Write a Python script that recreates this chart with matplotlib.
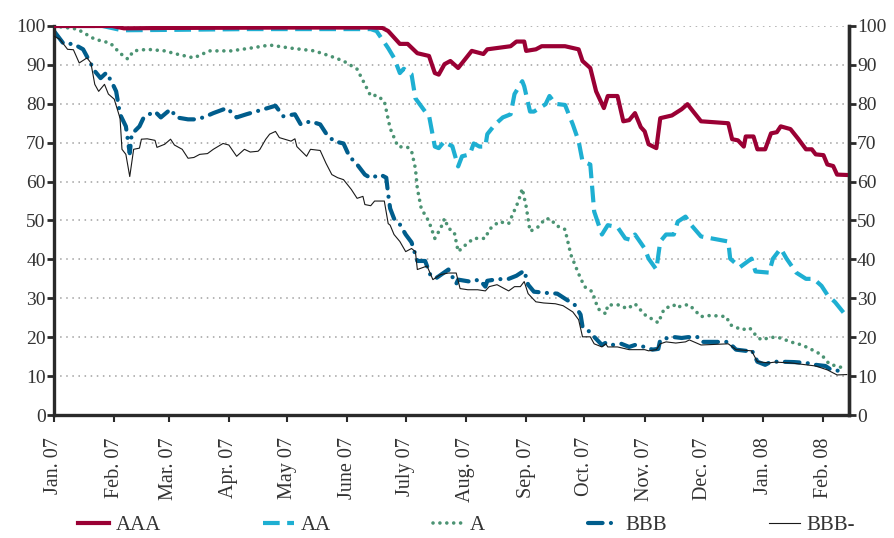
import matplotlib.pyplot as plt
import numpy as np

plt.rcParams['font.family'] = ['Liberation Serif', 'DejaVu Serif']

# days since 1 Jan 2007
aaa_day = [0, 30, 36, 60, 120, 163, 169, 172, 178, 182, 187, 193, 196, 198, 201, 204, 208,
           215, 221, 223, 235, 238, 242, 243, 248, 251, 263, 270, 272, 276, 279, 283, 285,
           290, 293, 296, 299, 302, 304, 306, 310, 312, 318, 323, 326, 329, 333, 347, 349,
           352, 355, 356, 360, 362, 366, 369, 372, 374, 379, 383, 387, 390, 392, 396, 398,
           401, 403, 408]
aaa_val = [100, 100, 99.4, 99.5, 99.6, 99.6, 99.5, 98.7, 95.4, 95.4, 93, 92.3, 87.9, 87.5,
           90.2, 91, 89.2, 93.6, 92.8, 94, 94.8, 96, 96, 93.6, 94, 94.8, 94.8, 94, 91, 89.2,
           83.2, 78.9, 82, 82, 75.5, 75.8, 77.6, 74, 72.9, 69.6, 68.6, 76.3, 77, 78.6, 79.9,
           78, 75.5, 75, 70.9, 70.6, 69, 71.6, 71.6, 68.3, 68.3, 72.4, 72.7, 74.2, 73.5, 71,
           68.3, 68.3, 67, 66.8, 64.4, 64, 61.8, 61.7]

aa_day = [0, 25, 35, 60, 100, 163, 166, 172, 175, 178, 180, 184, 186, 191, 193, 196, 198,
          201, 203, 205, 208, 210, 214, 216, 219, 222, 223, 227, 231, 235, 237, 241, 242,
          245, 247, 253, 255, 258, 263, 267, 270, 272, 276, 278, 282, 285, 290, 294, 297,
          299, 304, 306, 310, 312, 315, 319, 321, 325, 328, 333, 347, 348, 353, 359, 361,
          368, 370, 374, 377, 382, 387, 391, 395, 398, 402, 408]
aa_val = [100, 100, 98.9, 99, 99.2, 99.2, 98.7, 94.3, 91.8, 87.9, 89, 87.6, 81.4, 78, 77,
          69, 68.6, 70.4, 69.6, 69.1, 63.9, 66.5, 67, 69.8, 69, 69, 72.2, 74.7, 76.5, 77.3,
          82.5, 85.8, 84.5, 78, 78, 79.9, 82, 80, 79.7, 74.7, 70.4, 65.2, 64.4, 52.3, 46.4,
          48.8, 48.3, 45.4, 45, 46.4, 42.8, 40.2, 37.4, 44.6, 46.4, 46.4, 49.7, 51, 48.8,
          45.9, 44.6, 40.2, 38, 40.2, 36.9, 36.6, 40.2, 42.8, 40.2, 36.6, 35, 35, 33.2, 30.9,
          29, 25.3]

a_day = [0, 12, 21, 29, 34, 38, 41, 48, 57, 63, 72, 80, 91, 101, 111, 122, 134, 142, 149,
         156, 160, 163, 166, 170, 173, 177, 182, 184, 186, 187, 189, 193, 196, 199, 201, 203,
         206, 208, 212, 216, 222, 224, 229, 234, 236, 239, 241, 243, 245, 249, 253, 256, 258,
         263, 266, 270, 273, 277, 280, 284, 285, 291, 295, 299, 304, 310, 311, 314, 319, 320,
         325, 327, 333, 338, 346, 348, 354, 358, 361, 364, 369, 374, 379, 385, 390, 395, 399,
         404, 408]
a_val = [100, 99.2, 96.6, 95.6, 93, 91.5, 93.6, 94, 93.6, 92.8, 91.8, 93.6, 93.6, 94.3, 95.1,
         94.3, 93.6, 92.3, 91, 88.9, 85, 82, 82.2, 80.7, 73.7, 69, 68.8, 67.9, 63.4, 58.2,
         53.1, 49.7, 45.4, 48, 50.5, 48, 47, 42, 43.8, 45.4, 45.4, 47.7, 49.7, 49.2, 51.5,
         54.9, 58.2, 53.6, 47.2, 48.3, 50.5, 50.3, 48.8, 47.7, 41.2, 36.3, 33, 31.7, 27.3, 26,
         28.3, 28.3, 27.3, 28.6, 25.8, 24, 23.7, 27.3, 28.3, 27.6, 28.3, 28.3, 25.3, 25.6,
         25.3, 23.2, 21.9, 22.4, 20.6, 19.3, 20, 19.8, 18.8, 18, 16.8, 15.5, 13.1, 12.4, 11.9]

bbb_day = [0, 5, 10, 15, 21, 24, 27, 30, 32, 34, 37, 39, 40, 44, 46, 49, 52, 55, 60, 63, 69,
           72, 77, 82, 89, 94, 99, 110, 114, 118, 124, 127, 132, 137, 140, 144, 149, 152, 156,
           160, 163, 168, 171, 172, 173, 175, 178, 181, 184, 186, 187, 191, 194, 197, 203, 207,
           208, 214, 219, 222, 223, 228, 234, 238, 242, 244, 247, 253, 259, 263, 268, 271, 272,
           274, 278, 282, 284, 287, 292, 296, 299, 304, 308, 311, 312, 318, 323, 326, 331, 333,
           347, 351, 356, 359, 362, 366, 369, 374, 381, 387, 392, 397, 400, 405]
bbb_val = [98.7, 95.4, 95.4, 94, 88.4, 86.6, 88, 85.3, 83.2, 77.3, 74.2, 67.3, 72.2, 74.2,
           76.3, 77.3, 78, 76.5, 78.6, 76.5, 76, 76, 76.5, 77.6, 78.9, 76.5, 77.3, 78.9, 79.5,
           76.8, 77.3, 74.7, 75.5, 74.7, 72.4, 70.4, 69.8, 66.5, 64.4, 61.8, 60.9, 61.8, 61,
           56.7, 53.1, 50.5, 49, 46.4, 44.4, 41.2, 39.6, 39.6, 35.6, 35.3, 37.4, 33.7, 34.8,
           34.3, 34.8, 33, 34.5, 34.9, 35, 35.8, 37.1, 33.5, 31.7, 31.4, 31.2, 29.9, 28.3, 25.8,
           22.7, 22.2, 20.1, 18, 18.6, 18, 18.3, 17.5, 18, 17.5, 16.8, 17, 19.3, 20.1, 19.8, 20,
           20.1, 18.8, 18.8, 16.8, 16.5, 16.8, 13.7, 12.9, 13.7, 13.7, 13.6, 13.4, 12.9, 12.6,
           11.6, 11.3]

bbbm_day = [0, 3, 7, 10, 13, 17, 19, 21, 23, 26, 28, 31, 34, 35, 37, 39, 41, 44, 45, 48, 52,
            53, 57, 60, 62, 66, 69, 72, 75, 79, 82, 87, 90, 94, 98, 101, 105, 106, 109, 111,
            114, 116, 122, 124, 125, 130, 132, 137, 140, 143, 146, 149, 153, 156, 159, 160, 163,
            165, 170, 172, 173, 175, 178, 181, 184, 186, 187, 192, 195, 199, 203, 207, 209, 213,
            218, 222, 224, 228, 234, 237, 240, 242, 244, 248, 252, 258, 262, 267, 270, 272, 276,
            278, 282, 284, 285, 290, 296, 304, 306, 310, 312, 315, 320, 325, 327, 333, 347, 351,
            359, 362, 368, 371, 379, 392, 398, 403, 408]
bbbm_val = [97.4, 96.6, 94, 93.9, 90.5, 91.8, 90.5, 85, 83.2, 85, 82.5, 81.2, 76.3, 68.3, 67,
            61.3, 68.3, 68.6, 70.9, 71, 70.6, 68.8, 69.6, 70.9, 69.4, 68.3, 66, 66.2, 67, 67.2,
            68.3, 69.8, 69.4, 66.5, 68.3, 67.6, 67.8, 68.3, 70.9, 72.2, 72.9, 71.3, 70.4, 71,
            69, 66.5, 68.3, 68, 64.7, 61.8, 61, 60.5, 58, 55.7, 56.2, 54.1, 53.8, 55, 55, 49.2,
            48.8, 46.4, 44.6, 42, 42.8, 42, 37.4, 38.3, 34.8, 36.1, 36.5, 36.5, 32.5, 32.2, 32.2,
            31.9, 33, 33.5, 31.9, 33, 33, 34.3, 31.2, 29.1, 28.8, 28.6, 28.1, 26.5, 24.5, 20.1,
            20.1, 18.3, 17.5, 18.3, 17.5, 17.5, 16.8, 16.8, 16.5, 16.8, 18.3, 18.8, 18.5, 18.8,
            19.3, 18, 18.3, 16.8, 16.5, 13.7, 13.4, 13.6, 13.4, 12.6, 11.6, 10.3, 10.4]

month_day = [0, 31, 59, 90, 120, 151, 181, 212, 243, 273, 304, 334, 365, 396]
month_lbl = ['Jan. 07', 'Feb. 07', 'Mar. 07', 'Apr. 07', 'May 07', 'June 07', 'July 07',
             'Aug. 07', 'Sep. 07', 'Oct. 07', 'Nov. 07', 'Dec. 07', 'Jan. 08', 'Feb. 08']

txt = '#333333'
fig = plt.figure(figsize=(8.95, 5.38), dpi=100)
ax = fig.add_axes([0.0603, 0.2286, 0.888, 0.7231])

ax.plot(aaa_day, aaa_val, color='#9a0034', lw=3, label='AAA', zorder=5)
ax.plot(aa_day, aa_val, color='#1eafd2', lw=3, ls=(0, (4, 1.8)), label='AA', zorder=4)
ax.plot(a_day, a_val, color='#4b9373', lw=2.6, ls=(0, (0.01, 1.9)),
        dash_capstyle='round', label='A', zorder=3)
ax.plot(bbb_day, bbb_val, color='#005d8c', lw=3, ls=(0, (3.5, 2, 0.01, 2)),
        dash_capstyle='round', label='BBB', zorder=2)
ax.plot(bbbm_day, bbbm_val, color='#1a1a1a', lw=0.8, label='BBB-', zorder=6)

ax.set_xlim(0, 409)
ax.set_ylim(0, 100)
ax.set_yticks(np.arange(0, 101, 10))
for y in range(10, 101, 10):
    ax.axhline(y, color='#a0a0a0', lw=1.1, ls=(0, (1, 3)), zorder=0)

ax.set_xticks(month_day)
ax.set_xticklabels(month_lbl, rotation=90, ha='center', va='top', fontsize=14.5, color=txt)
ax.tick_params(axis='y', labelsize=14, labelcolor=txt, width=2, length=5,
               color='#2a2a2a', pad=1)
ax.tick_params(axis='x', width=1.5, length=5, color='#2a2a2a', pad=11)

for s in ['left', 'bottom', 'right']:
    ax.spines[s].set_linewidth(2.4)
    ax.spines[s].set_color('#2a2a2a')
ax.spines['top'].set_visible(False)

ax2 = ax.twinx()
ax2.set_ylim(0, 100)
ax2.set_yticks(np.arange(0, 101, 10))
ax2.tick_params(axis='y', labelsize=14, labelcolor=txt, width=2, length=5,
                color='#2a2a2a', pad=1)
ax2.spines['right'].set_linewidth(2.4)
ax2.spines['right'].set_color('#2a2a2a')
for s in ['top', 'left', 'bottom']:
    ax2.spines[s].set_visible(False)

handles, labels = ax.get_legend_handles_labels()
fig.legend(handles, labels, loc='lower left', bbox_to_anchor=(0.066, -0.03, 0.91, 0.06),
           ncol=5, mode='expand', frameon=False, fontsize=15, handlelength=1.5,
           handletextpad=0.3, labelcolor=txt)

fig.savefig('out.png', dpi=100)
